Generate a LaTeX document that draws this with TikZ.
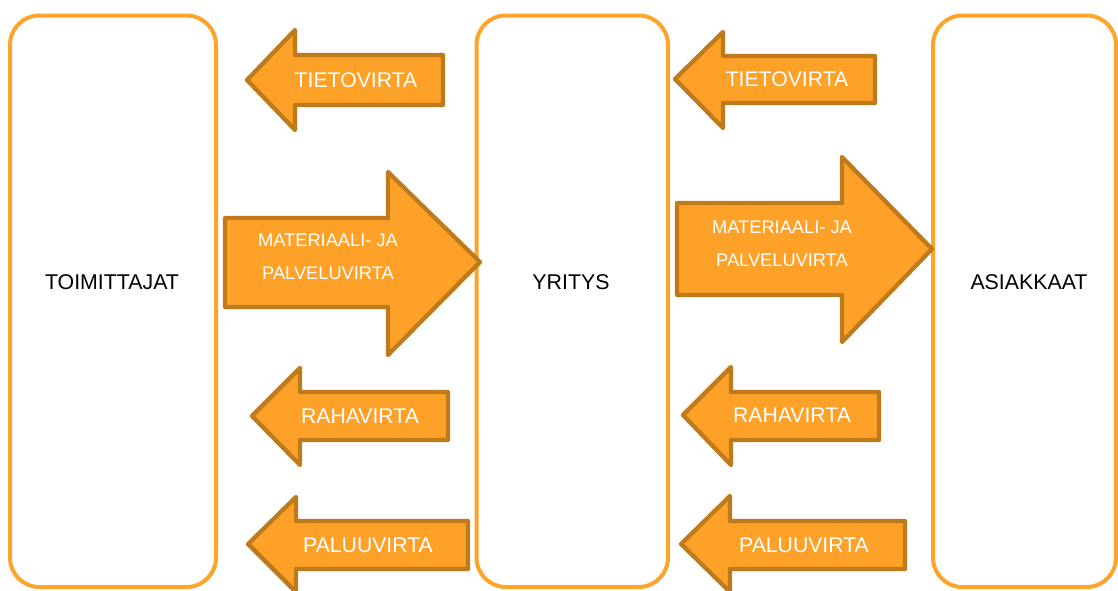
\documentclass[tikz,border=0pt]{standalone}
\usepackage{fontspec}
\setmainfont{Liberation Sans}
\definecolor{boxline}{HTML}{FDA52B}
\definecolor{flowfill}{HTML}{FDA128}
\definecolor{flowline}{HTML}{BF7A1C}
\begin{document}
\begin{tikzpicture}[x=0.75pt,y=-0.75pt,
  party/.style={draw=boxline,line width=3pt,rounded corners=22pt,fill=white},
  flow/.style={fill=flowfill,draw=flowline,line width=3.2pt,line join=round},
  flowtext/.style={text=white,inner sep=0pt,font=\fontsize{15.9}{18}\selectfont},
  flowtwo/.style={text=white,inner sep=0pt,align=center,font=\fontsize{13.7}{24.75}\selectfont},
  partytext/.style={text=black,inner sep=0pt,font=\fontsize{16}{18}\selectfont}]
\clip (0,0) rectangle (1118,590);
\fill[white] (0,0) rectangle (1118,590);

% the three parties
\draw[party] (10,15.5) rectangle (216,587);
\draw[party] (476.5,15.5) rectangle (668,587);
\draw[party] (933,15.5) rectangle (1116,587);
\node[partytext] (toim) at (112,282) {TOIMITTAJAT};
\node[partytext] (yri) at (571,282) {YRITYS};
\node[partytext] (asi) at (1029,282) {ASIAKKAAT};

% information flows (leftwards)
\draw[flow] (247,80) -- (295,30) -- (295,55) -- (443,55) -- (443,105) -- (295,105) -- (295,130) -- cycle;
\node[flowtext] (tieto1) at (356,80) {TIETOVIRTA};
\draw[flow] (675,79) -- (723,32) -- (723,56) -- (875,56) -- (875,103) -- (723,103) -- (723,128) -- cycle;
\node[flowtext] (tieto2) at (787,79) {TIETOVIRTA};

% material and service flows (rightwards)
\draw[flow] (480,262) -- (388,172) -- (388,218) -- (225,218) -- (225,307) -- (388,307) -- (388,355) -- cycle;
\node[flowtwo] (mat1) at (328,256.5) {MATERIAALI- JA\\PALVELUVIRTA};
\draw[flow] (932,249) -- (842,157) -- (842,203) -- (677,203) -- (677,295) -- (842,295) -- (842,342) -- cycle;
\node[flowtwo] (mat2) at (782,243.5) {MATERIAALI- JA\\PALVELUVIRTA};

% money flows (leftwards)
\draw[flow] (252,416) -- (300,368) -- (300,392) -- (448,392) -- (448,440) -- (300,440) -- (300,465) -- cycle;
\node[flowtext] (raha1) at (360,416) {RAHAVIRTA};
\draw[flow] (683,415) -- (731,367) -- (731,392) -- (879,392) -- (879,440) -- (731,440) -- (731,465) -- cycle;
\node[flowtext] (raha2) at (792,415) {RAHAVIRTA};

% return flows (leftwards)
\draw[flow] (248,544) -- (296,497) -- (296,521) -- (468,521) -- (468,569) -- (296,569) -- (296,592) -- cycle;
\node[flowtext] (paluu1) at (368,545) {PALUUVIRTA};
\draw[flow] (681,544) -- (730,496) -- (730,521) -- (905,521) -- (905,569) -- (730,569) -- (730,592) -- cycle;
\node[flowtext] (paluu2) at (804,545) {PALUUVIRTA};
\end{tikzpicture}
\end{document}
